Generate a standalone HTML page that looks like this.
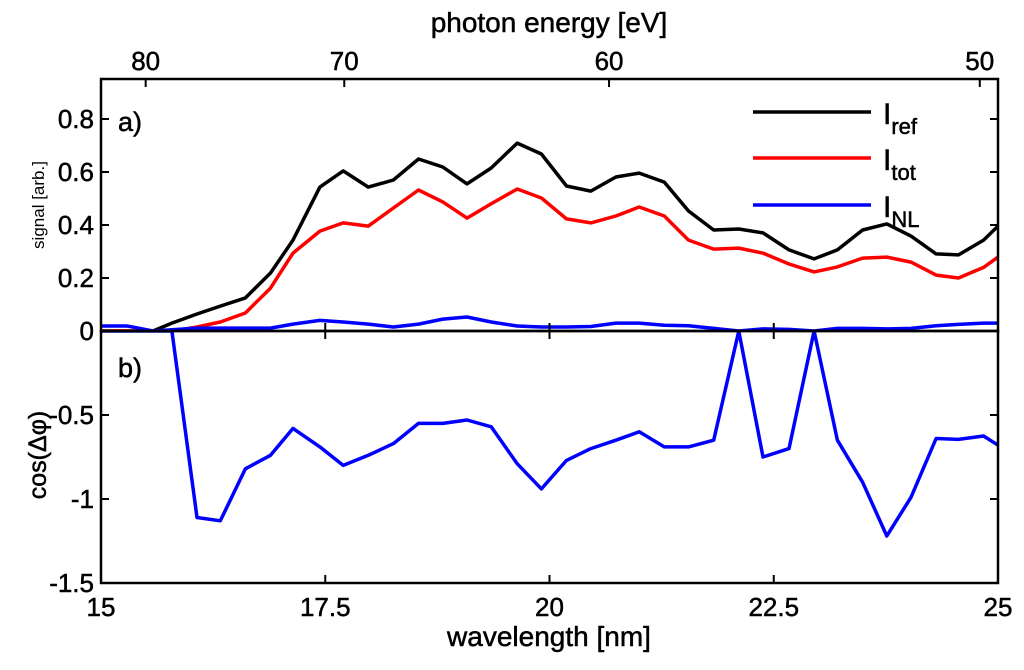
<!DOCTYPE html>
<html><head><meta charset="utf-8"><style>
html,body{margin:0;padding:0;background:#fff}
svg{display:block;font-family:"Liberation Sans",Arial,sans-serif}
</style></head><body>
<svg id="chart" width="1024" height="670" viewBox="0 0 1024 670" xmlns="http://www.w3.org/2000/svg">
<g id="g"></g>
</svg>
<script>
const wavelengths=[15.00,15.29,15.58,15.79,16.07,16.33,16.61,16.89,17.14,17.44,17.70,17.98,18.26,18.54,18.81,19.08,19.35,19.64,19.91,20.19,20.46,20.74,21.00,21.28,21.55,21.83,22.11,22.38,22.67,22.95,23.21,23.49,23.76,24.03,24.31,24.56,24.84,25.00];
const iRef=[0,0,0,0.03,0.064,0.094,0.125,0.219,0.343,0.543,0.604,0.543,0.570,0.649,0.619,0.555,0.615,0.709,0.668,0.547,0.528,0.581,0.596,0.562,0.453,0.381,0.385,0.37,0.306,0.272,0.306,0.381,0.404,0.358,0.291,0.287,0.343,0.396];
const iTot=[0,0,0,0,0.015,0.034,0.068,0.162,0.294,0.377,0.408,0.396,0.464,0.532,0.487,0.426,0.48,0.536,0.502,0.423,0.408,0.434,0.468,0.434,0.343,0.309,0.313,0.294,0.253,0.223,0.242,0.275,0.279,0.26,0.211,0.2,0.24,0.279];
const iNL=[0.019,0.019,0,0.005,0.011,0.011,0.011,0.011,0.026,0.04,0.034,0.026,0.015,0.026,0.045,0.053,0.034,0.019,0.015,0.015,0.017,0.03,0.03,0.022,0.02,0.01,0,0.008,0.006,0,0.01,0.01,0.008,0.01,0.02,0.025,0.03,0.03];
const cosPhi=[0,0,0,0,-1.11,-1.13,-0.82,-0.74,-0.58,-0.69,-0.80,-0.74,-0.67,-0.55,-0.55,-0.53,-0.57,-0.79,-0.94,-0.77,-0.70,-0.65,-0.60,-0.69,-0.69,-0.65,0,-0.75,-0.70,0,-0.65,-0.90,-1.22,-0.99,-0.64,-0.645,-0.625,-0.68];
const xTicks=[15,17.5,20,22.5,25];
const xTickLabels=["15","17.5","20","22.5","25"];
const eTicks=[80,70,60,50];
const topYTicks=[0,0.2,0.4,0.6,0.8];
const topYLabels=["0","0.2","0.4","0.6","0.8"];
const botYTicks=[-0.5,-1,-1.5];
const botYLabels=["-0.5","-1","-1.5"];

const L=101,R=998,T=79,M=331,B=583;
const xs=v=>L+(v-15)*(R-L)/10;
const yTop=v=>M-v*265;
const yBot=v=>M-v*(B-M)/1.5;
const NS="http://www.w3.org/2000/svg";
const g=document.getElementById('g');
function mk(tag,attrs,parent){const e=document.createElementNS(NS,tag);for(const k in attrs)e.setAttribute(k,attrs[k]);(parent||g).appendChild(e);return e;}
function txt(s,attrs){const e=mk('text',attrs);e.textContent=s;return e;}

const defs=mk('defs',{});
const c1=mk('clipPath',{id:'ct'},defs);mk('rect',{x:L,y:T,width:R-L,height:M-T},c1);
const c2=mk('clipPath',{id:'cb'},defs);mk('rect',{x:L,y:M,width:R-L,height:B-M},c2);

function series(vals,yf,color,clip,name){
  const d=vals.map((v,i)=>(i?'L':'M')+xs(wavelengths[i]).toFixed(1)+','+yf(v).toFixed(1)).join(' ');
  const p=mk('path',{d:d,fill:'none',stroke:color,'stroke-width':3.5,'stroke-linejoin':'round','clip-path':'url(#'+clip+')'});
  
  
}
series(iRef,yTop,'#000','ct','series-i-ref');
series(iTot,yTop,'#f00','ct','series-i-tot');
series(cosPhi,yBot,'#00f','cb','series-cos-dphi');
series(iNL,yTop,'#00f','ct','series-i-nl');

const f1=mk('rect',{x:L,y:T,width:R-L,height:M-T,fill:'none',stroke:'#000','stroke-width':2.5});


const f2=mk('rect',{x:L,y:M,width:R-L,height:B-M,fill:'none',stroke:'#000','stroke-width':2.5});



const tk=8;
const FS=26;
const ST='stroke:#000;stroke-width:0.5px';
xTicks.forEach((v,i)=>{
  const x=xs(v);
  mk('line',{x1:x,y1:B,x2:x,y2:B-tk,stroke:'#000','stroke-width':2});
  mk('line',{x1:x,y1:M,x2:x,y2:M-tk,stroke:'#000','stroke-width':2});
  mk('line',{x1:x,y1:M,x2:x,y2:M+tk,stroke:'#000','stroke-width':2});
  const t=txt(xTickLabels[i],{x:x,y:616,'text-anchor':'middle','font-size':FS,style:ST});
  
  
});
eTicks.forEach(v=>{
  const x=xs(1239.84/v);
  mk('line',{x1:x,y1:T,x2:x,y2:T+tk,stroke:'#000','stroke-width':2});
  const t=txt(String(v),{x:x,y:70,'text-anchor':'middle','font-size':FS,style:ST});
  
  
});
topYTicks.forEach((v,i)=>{
  const y=yTop(v);
  mk('line',{x1:L,y1:y,x2:L+tk,y2:y,stroke:'#000','stroke-width':2});
  mk('line',{x1:R,y1:y,x2:R-tk,y2:y,stroke:'#000','stroke-width':2});
  const t=txt(topYLabels[i],{x:94,y:y+9,'text-anchor':'end','font-size':FS,style:ST});
  
  
});
botYTicks.forEach((v,i)=>{
  const y=yBot(v);
  mk('line',{x1:L,y1:y,x2:L+tk,y2:y,stroke:'#000','stroke-width':2});
  mk('line',{x1:R,y1:y,x2:R-tk,y2:y,stroke:'#000','stroke-width':2});
  const t=txt(botYLabels[i],{x:94,y:y+9,'text-anchor':'end','font-size':FS,style:ST});
  
  
});

let t;
t=txt('photon energy [eV]',{x:549,y:32,'text-anchor':'middle','font-size':28,style:ST});


t=txt('wavelength [nm]',{x:549,y:646,'text-anchor':'middle','font-size':28,style:ST});


t=txt('signal [arb.]',{x:0,y:0,'text-anchor':'middle','font-size':17,transform:'translate(44,205) rotate(-90)'});


t=txt('cos(Δφ)',{x:0,y:0,'text-anchor':'middle','font-size':25,style:ST,transform:'translate(46,455) rotate(-90)'});


t=txt('a)',{x:118,y:131,'font-size':27,style:ST});


t=txt('b)',{x:118,y:377,'font-size':27,style:ST});



const legNames=['ref','tot','NL'];
const legColors=['#000','#f00','#00f'];
const legY=[112,158,205];
legNames.forEach((n,i)=>{
  const ln=mk('line',{x1:753,y1:legY[i],x2:871,y2:legY[i],stroke:legColors[i],'stroke-width':3.5});
  
  
  const tt=mk('text',{x:883,y:legY[i]+12,'font-size':30,style:ST});
  
  
  tt.textContent='I';
  const s=mk('tspan',{dy:10,'font-size':22},tt);s.textContent=n;
});
</script>
</body></html>
